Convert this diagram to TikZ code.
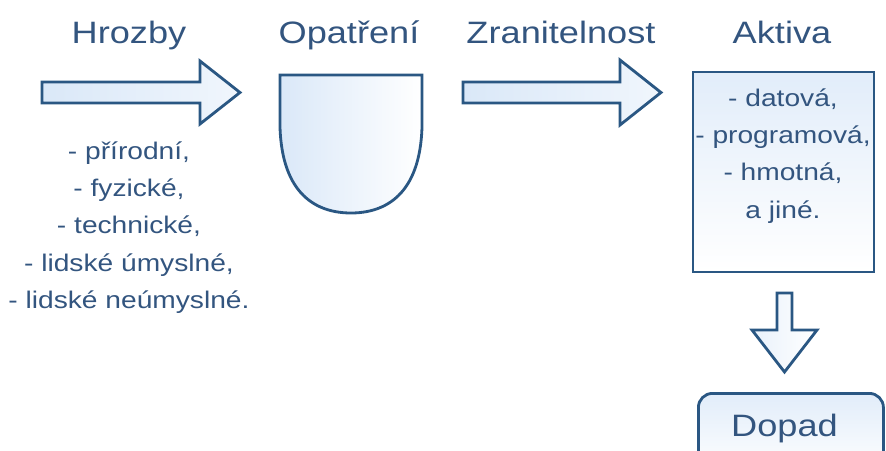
\documentclass[tikz,border=0pt]{standalone}
\usepackage{fontspec}
\setmainfont{Liberation Sans}[FakeStretch=1.17]
\usepackage{tikz}
\usetikzlibrary{positioning}
\definecolor{cText}{HTML}{33557F}
\definecolor{cLine}{HTML}{2A5783}
\definecolor{cFill}{HTML}{DAE8F8}

\begin{document}
\begin{tikzpicture}[x=0.02cm, y=-0.02cm,
  title/.style={font=\fontsize{17.6}{20}\selectfont, text=cText, anchor=base,
                inner sep=0pt},
  items/.style={font=\fontsize{13.7}{21.3}\selectfont, text=cText, align=center,
                inner sep=0pt, anchor=north},
  blockarrow/.style={draw=cLine, line width=1.6pt, line join=miter,
                     left color=cFill, right color=cFill!40},
  box/.style={draw=cLine, line width=1.6pt, top color=cFill!80, bottom color=white},
]
  \useasboundingbox (0,0) rectangle (886,450);
  % column titles
  \node[title] (hrozby) at (129,43) {Hrozby};
  \node[title] (opatreni) at (349,43) {Opatření};
  \node[title] (zranit) at (561,43) {Zranitelnost};
  \node[title] (aktiva) at (782,43) {Aktiva};
  % threats
  \node[items] (druhy) at (129,141)
    {- přírodní,\\- fyzické,\\- technické,\\- lidské úmyslné,\\- lidské neúmyslné.};
  % arrows between the columns
  \draw[blockarrow] (42,82) -- (200,82) -- (200,61) -- (240,92.5)
    -- (200,124) -- (200,103) -- (42,103) -- cycle;
  \draw[blockarrow] (463,82) -- (620,82) -- (620,60) -- (661,92.5)
    -- (620,125) -- (620,103) -- (463,103) -- cycle;
  % countermeasures (shield)
  \draw[box, left color=cFill, right color=white] (280,75) -- (422,75) -- (422,127)
    .. controls (420,195) and (385,213) .. (351,213)
    .. controls (317,213) and (282,195) .. (280,127) -- cycle;
  % assets
  \node[box, minimum width=181*0.02cm, minimum height=200*0.02cm, inner sep=0pt]
    (druhyaktiv) at (783.5,172) {};
  \node[items] (seznam) at (783,88)
    {\fontsize{13.7}{34.5}\selectfont - datová,\\- programová,\\- hmotná,\\a jiné.};
  % impact
  \draw[blockarrow, left color=cFill!60, right color=white]
    (777,293) -- (792,293) -- (792,330) -- (817,330) -- (784.5,372)
    -- (752,330) -- (777,330) -- cycle;
  \node[box, rounded corners=8pt, minimum width=185*0.02cm, minimum height=80*0.02cm,
    inner sep=0pt, anchor=north west] (dopadbox) at (697,392) {};
  \node[title] (dopad) at (784.5,436) {Dopad};
\end{tikzpicture}
\end{document}
